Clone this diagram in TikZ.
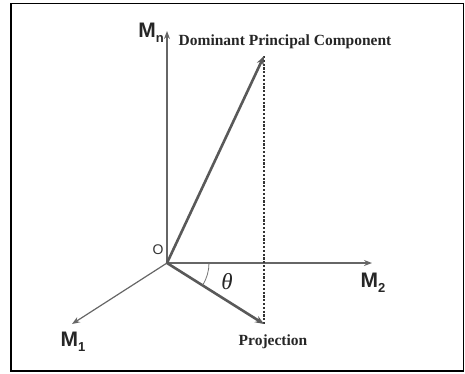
\documentclass[tikz,border=0pt]{standalone}
\usepackage{fontspec}
\setmainfont{Liberation Serif}
\setsansfont{Liberation Sans}
\usetikzlibrary{arrows.meta}
\tikzset{
  axis/.style={draw=black!60, line width=1.2pt, -{Stealth[length=8pt,width=6pt]}},
  vec/.style={draw=black!65, line width=2.6pt, -{Stealth[length=9pt,width=7pt]}},
  axlab/.style={font=\sffamily\bfseries\fontsize{21}{21}\selectfont, text=black!85, inner sep=0pt},
  veclab/.style={font=\bfseries\fontsize{15.5}{15.5}\selectfont, text=black!85, inner sep=0pt}
}
\newcommand{\axsub}[1]{\raisebox{-0.22em}{\fontsize{13}{13}\selectfont #1}}
\begin{document}
\begin{tikzpicture}[x=1pt,y=-1pt]
\useasboundingbox (0,0) rectangle (465,373);
\draw[line width=1.6pt] (11,3.5) rectangle (463.5,371);
\coordinate (O) at (167,263);
\coordinate (Mn) at (167,31);
\coordinate (M2) at (372,263);
\coordinate (M1) at (72,324);
\coordinate (D) at (264,56);
\coordinate (P) at (264,324);
\draw[axis] (O) -- (Mn);
\draw[axis] (O) -- (M2);
\draw[axis] (O) -- (M1);
\draw[black!80, line width=1.4pt, dash pattern=on 2.2pt off 1.6pt] (D) -- (P);
\draw[vec] (O) -- (D);
\draw[vec] (O) -- (P);
\draw[black!55, line width=0.8pt] (O) ++(42,0) arc[start angle=0, end angle=32, radius=42];
\node[axlab] (lMn) at (151,33) {M\axsub{n}};
\node[axlab] (lM2) at (373,283) {M\axsub{2}};
\node[axlab] (lM1) at (73,342) {M\axsub{1}};
\node[font=\sffamily\fontsize{14}{14}\selectfont, text=black!80, inner sep=0pt] (lO) at (158,250) {O};
\node[inner sep=0pt, font=\itshape\fontsize{23}{23}\selectfont, text=black!85] (lth) at (227,282) {θ};
\node[veclab] (lD) at (285,42) {Dominant Principal Component};
\node[veclab] (lP) at (273,342) {Projection};
\end{tikzpicture}
\end{document}
